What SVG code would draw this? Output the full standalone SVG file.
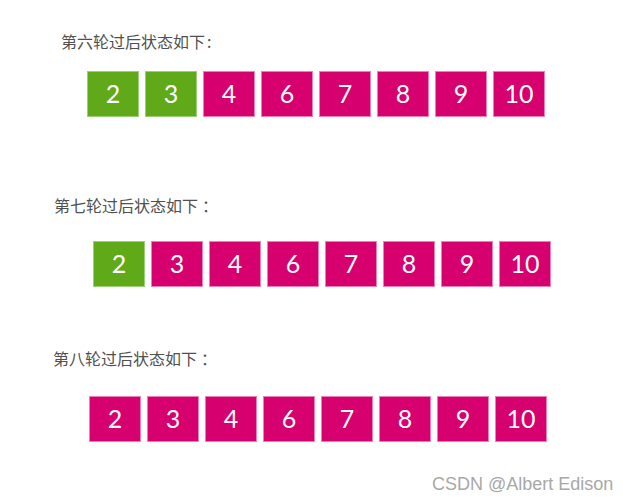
<svg xmlns="http://www.w3.org/2000/svg" width="627" height="500" viewBox="0 0 627 500">
<style>
.lbl{font-family:"Noto Sans CJK SC","Liberation Sans",sans-serif;font-size:16px;fill:#505050}
.g rect{fill:#60a918;stroke:#9ccd78;stroke-width:1}
.m rect{fill:#d6006f;stroke:#ec7fb5;stroke-width:1}
.n text{font-family:Lato,"Open Sans",sans-serif;font-size:25px;fill:#ffffff;text-anchor:middle}
.wm{font-family:"Liberation Sans",Arial,sans-serif;font-size:18px;fill:#a8a8a8}
</style>
<rect width="627" height="500" fill="#ffffff"/>
<text class="lbl" x="61" y="48">第六轮过后状态如下<tspan dx="2">:</tspan></text>
<text class="lbl" x="54" y="212">第七轮过后状态如下<tspan dx="4">：</tspan></text>
<text class="lbl" x="53" y="365">第八轮过后状态如下<tspan dx="4">：</tspan></text>

<g id="row6">
<g id="r6n1" class="n g"><rect x="87.5" y="71.5" width="51" height="45"/><text x="113" y="103">2</text></g>
<g id="r6n2" class="n g"><rect x="145.5" y="71.5" width="51" height="45"/><text x="171" y="103">3</text></g>
<g id="r6n3" class="n m"><rect x="203.5" y="71.5" width="51" height="45"/><text x="229" y="103">4</text></g>
<g id="r6n4" class="n m"><rect x="261.5" y="71.5" width="51" height="45"/><text x="287" y="103">6</text></g>
<g id="r6n5" class="n m"><rect x="319.5" y="71.5" width="51" height="45"/><text x="345" y="103">7</text></g>
<g id="r6n6" class="n m"><rect x="377.5" y="71.5" width="51" height="45"/><text x="403" y="103">8</text></g>
<g id="r6n7" class="n m"><rect x="435.5" y="71.5" width="51" height="45"/><text x="461" y="103">9</text></g>
<g id="r6n8" class="n m"><rect x="493.5" y="71.5" width="51" height="45"/><text x="519" y="103">10</text></g>
</g>

<g id="row7">
<g id="r7n1" class="n g"><rect x="93.5" y="241.5" width="51" height="45"/><text x="119" y="273">2</text></g>
<g id="r7n2" class="n m"><rect x="151.5" y="241.5" width="51" height="45"/><text x="177" y="273">3</text></g>
<g id="r7n3" class="n m"><rect x="209.5" y="241.5" width="51" height="45"/><text x="235" y="273">4</text></g>
<g id="r7n4" class="n m"><rect x="267.5" y="241.5" width="51" height="45"/><text x="293" y="273">6</text></g>
<g id="r7n5" class="n m"><rect x="325.5" y="241.5" width="51" height="45"/><text x="351" y="273">7</text></g>
<g id="r7n6" class="n m"><rect x="383.5" y="241.5" width="51" height="45"/><text x="409" y="273">8</text></g>
<g id="r7n7" class="n m"><rect x="441.5" y="241.5" width="51" height="45"/><text x="467" y="273">9</text></g>
<g id="r7n8" class="n m"><rect x="499.5" y="241.5" width="51" height="45"/><text x="525" y="273">10</text></g>
</g>

<g id="row8">
<g id="r8n1" class="n m"><rect x="89.5" y="396.5" width="51" height="45"/><text x="115" y="428">2</text></g>
<g id="r8n2" class="n m"><rect x="147.5" y="396.5" width="51" height="45"/><text x="173" y="428">3</text></g>
<g id="r8n3" class="n m"><rect x="205.5" y="396.5" width="51" height="45"/><text x="231" y="428">4</text></g>
<g id="r8n4" class="n m"><rect x="263.5" y="396.5" width="51" height="45"/><text x="289" y="428">6</text></g>
<g id="r8n5" class="n m"><rect x="321.5" y="396.5" width="51" height="45"/><text x="347" y="428">7</text></g>
<g id="r8n6" class="n m"><rect x="379.5" y="396.5" width="51" height="45"/><text x="405" y="428">8</text></g>
<g id="r8n7" class="n m"><rect x="437.5" y="396.5" width="51" height="45"/><text x="463" y="428">9</text></g>
<g id="r8n8" class="n m"><rect x="495.5" y="396.5" width="51" height="45"/><text x="521" y="428">10</text></g>
</g>

<g id="connectors"/>
<text class="wm" x="432" y="490">CSDN @Albert Edison</text>
</svg>
